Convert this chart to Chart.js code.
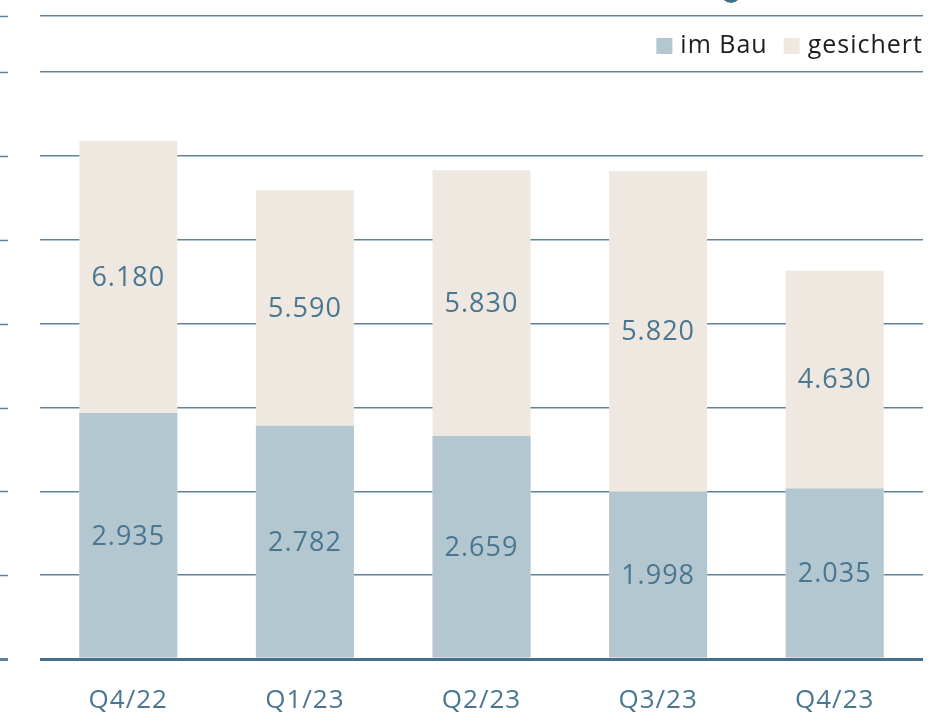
<!DOCTYPE html>
<html>
<head>
<meta charset="utf-8">
<script src="https://cdn.jsdelivr.net/npm/chart.js@4/dist/chart.umd.min.js"></script>
<style>
    html, body { margin: 0; padding: 0; background: #ffffff; }
    #wrap { position: relative; width: 944px; height: 713px; }
</style>
</head>
<body>
<div id="wrap"><canvas id="myChart" width="944" height="713"></canvas></div>
<script>
// quarters on the x axis
const quarters = ['Q4/22', 'Q1/23', 'Q2/23', 'Q3/23', 'Q4/23'];
// bars overlap (not stacked): "gesichert" goes from 0 to its value, "im Bau" is drawn in front
const imBau = [2935, 2782, 2659, 1998, 2035];
const gesichert = [6180, 5590, 5830, 5820, 4630];
// gridlines (labels are cut off in the source), plus the top edge
const yTicks = [0, 1000, 2000, 3000, 4000, 5000, 6000, 7000];
const yMax = 7670;

const gridColor = '#5e8399';
const textColor = '#4a7690';
const fontFamily = '"Open Sans", Lato, sans-serif';

function fmt(v) {
    return v.toLocaleString('de-DE');
}

// a touch of letter spacing for every text on the canvas
const spacing = {
    id: 'spacing',
    beforeDraw(chart) {
        chart.ctx.letterSpacing = '1px';
    }
};

// numbers in the middle of the visible part of each bar
const valueLabels = {
    id: 'valueLabels',
    afterDatasetsDraw(chart) {
        const ctx = chart.ctx;
        const y = chart.scales.y;
        const bau = chart.getDatasetMeta(0);
        const ges = chart.getDatasetMeta(1);
        ctx.save();
        ctx.letterSpacing = '1px';
        ctx.font = '27px ' + fontFamily;
        ctx.fillStyle = textColor;
        ctx.textAlign = 'center';
        ctx.textBaseline = 'middle';
        for (let i = 0; i < quarters.length; i++) {
            const y0 = y.getPixelForValue(0);
            const y1 = y.getPixelForValue(imBau[i]);
            const y2 = y.getPixelForValue(gesichert[i]);
            ctx.fillText(fmt(imBau[i]), bau.data[i].x, (y0 + y1) / 2 + 1);
            ctx.fillText(fmt(gesichert[i]), ges.data[i].x, (y1 + y2) / 2 + 1);
        }
        ctx.restore();
    }
};

// legend sits inside the plot, top right, under the top line
const topLegend = {
    id: 'topLegend',
    afterDraw(chart) {
        const ctx = chart.ctx;
        const area = chart.chartArea;
        const sets = chart.data.datasets;
        const box = 16, gap = 8, itemGap = 16;
        const cy = area.top + 30;
        ctx.save();
        ctx.letterSpacing = '1px';
        ctx.font = '25px ' + fontFamily;
        ctx.textBaseline = 'middle';
        ctx.textAlign = 'left';
        let x = area.right;
        for (let i = sets.length - 1; i >= 0; i--) {
            const w = ctx.measureText(sets[i].label).width;
            x -= w;
            ctx.fillStyle = '#1e1e1e';
            ctx.fillText(sets[i].label, x, cy);
            x -= gap + box;
            ctx.fillStyle = sets[i].backgroundColor;
            ctx.fillRect(x, cy - box / 2, box, box);
            x -= itemGap;
        }
        ctx.restore();
    }
};

// short tick marks at the far left, one per y gridline
const leftTicks = {
    id: 'leftTicks',
    afterDraw(chart) {
        const ctx = chart.ctx;
        const y = chart.scales.y;
        ctx.save();
        ctx.strokeStyle = gridColor;
        y.ticks.forEach(t => {
            const py = Math.round(y.getPixelForValue(t.value)) + 0.5;
            ctx.lineWidth = t.value === 0 ? 3 : 1.5;
            ctx.beginPath();
            ctx.moveTo(0, py);
            ctx.lineTo(8, py);
            ctx.stroke();
        });
        // bit of the round marker cut off at the top
        ctx.fillStyle = '#3f6f89';
        ctx.beginPath();
        ctx.arc(731, -7, 10, 0, Math.PI * 2);
        ctx.fill();
        ctx.restore();
    }
};

let ctx = document.getElementById('myChart').getContext('2d');

let myChart = new Chart(ctx, {
    type: 'bar',
    data: {
        labels: quarters,
        datasets: [{
                label: 'im Bau',
                data: imBau,
                backgroundColor: '#b3c7d0',
                borderWidth: 0,
                grouped: false,
                barPercentage: 0.555,
                categoryPercentage: 1,
            },
            {
                label: 'gesichert',
                data: gesichert,
                backgroundColor: '#efe8e1',
                borderWidth: 0,
                grouped: false,
                barPercentage: 0.555,
                categoryPercentage: 1,
            },
        ],
    },
    options: {
        responsive: false,
        animation: false,
        layout: {
            padding: { left: 40, right: 21, top: 16, bottom: 0 }
        },
        scales: {
            x: {
                grid: { display: false, drawTicks: false },
                border: { display: false },
                ticks: {
                    color: textColor,
                    font: { family: fontFamily, size: 26, lineHeight: 1 },
                    padding: 29,
                },
                afterFit: function(scale) {
                    scale.height = 54;
                }
            },
            y: {
                min: 0,
                max: yMax,
                border: { display: false },
                afterBuildTicks: function(scale) {
                    scale.ticks = yTicks.concat([yMax]).map(v => ({ value: v }));
                },
                grid: {
                    drawTicks: false,
                    color: function(c) {
                        return c.tick && c.tick.value === 0 ? '#46708a' : gridColor;
                    },
                    lineWidth: function(c) {
                        return c.tick && c.tick.value === 0 ? 3 : 1.5;
                    }
                },
                ticks: {
                    display: false,
                }
            }
        },
        plugins: {
            legend: { display: false },
            tooltip: { enabled: false }
        },
    },
    plugins: [spacing, valueLabels, topLegend, leftTicks]
});
</script>
</body>
</html>
